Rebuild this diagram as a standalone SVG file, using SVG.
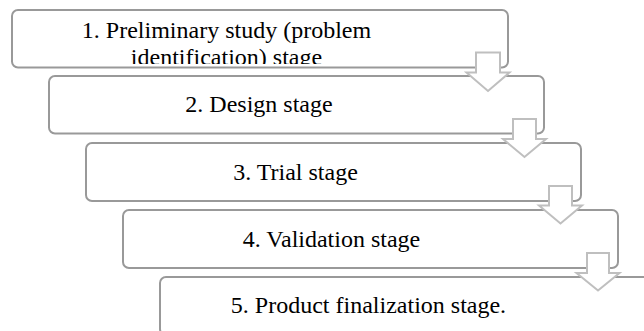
<svg xmlns="http://www.w3.org/2000/svg" width="644" height="331" viewBox="0 0 644 331">
<defs>
<style>
.box{fill:#fff;stroke:#999999;stroke-width:2}
.arr{fill:#fff;stroke:#bfbfbf;stroke-width:2;stroke-linejoin:miter}
.t{font-family:'Liberation Serif','Times New Roman',serif;font-size:24px;fill:#000;text-anchor:middle}
</style>
<clipPath id="c1"><rect x="12" y="10" width="496" height="54"/></clipPath>
</defs>
<rect width="644" height="331" fill="#fff"/>
<g id="node1">
<rect class="box" x="12" y="10" width="496" height="57.5" rx="6"/>
<g clip-path="url(#c1)">
<text class="t" x="226.5" y="37.5">1. Preliminary study (problem</text>
<text class="t" x="226.5" y="65">identification) stage</text>
</g>
</g>
<g id="node2">
<rect class="box" x="49" y="76" width="495" height="57.5" rx="6"/>
<text class="t" x="259" y="112">2. Design stage</text>
</g>
<g id="node3">
<rect class="box" x="86" y="143" width="495" height="58" rx="6"/>
<text class="t" x="295.5" y="180">3. Trial stage</text>
</g>
<g id="node4">
<rect class="box" x="123" y="210" width="495" height="58" rx="6"/>
<text class="t" x="331.5" y="247">4. Validation stage</text>
</g>
<g id="node5">
<rect class="box" x="160" y="277" width="495" height="58" rx="6"/>
<text class="t" x="368.5" y="313">5. Product finalization stage.</text>
</g>
<g id="connectors">
<path class="arr" d="M476,52.5 H500 V72.5 H509.5 L488,91 L466.5,72.5 H476 Z"/>
<path class="arr" d="M513,119 H536 V139 H546 L524.5,157 L503,139 H513 Z"/>
<path class="arr" d="M549,186 H572 V205.5 H582 L560.5,223.5 L539,205.5 H549 Z"/>
<path class="arr" d="M587,253 H609 V273 H619.5 L598,290.5 L576.5,273 H587 Z"/>
</g>
</svg>
